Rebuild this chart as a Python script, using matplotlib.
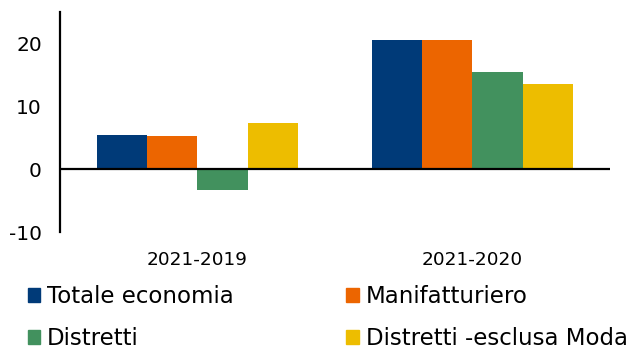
import numpy as np
import matplotlib.pyplot as plt
from matplotlib.patches import Patch

plt.rcParams['font.family'] = ['DejaVu Sans']
plt.rcParams['axes.unicode_minus'] = False

categories = ['2021-2019', '2021-2020']
series = ['Totale economia', 'Manifatturiero', 'Distretti', 'Distretti -esclusa Moda']
values = [
    [5.5, 20.5],   # Totale economia
    [5.2, 20.5],   # Manifatturiero
    [-3.3, 15.4],  # Distretti
    [7.4, 13.5],   # Distretti -esclusa Moda
]
colors = ['#003a78', '#ec6500', '#42915e', '#edbd00']

fig = plt.figure(figsize=(6.3, 3.51), dpi=100)
ax = fig.add_axes([0.0952, 0.339, 0.873, 0.627])

x = np.arange(len(categories))
w = 0.182
for i, (name, vals) in enumerate(zip(series, values)):
    ax.bar(x + (i - 1.5) * w, vals, width=w, color=colors[i], label=name)

ax.axhline(0, color='black', lw=1.6, zorder=3)
ax.set_xlim(-0.5, 1.5)
ax.set_ylim(-10, 25)
ax.set_yticks([-10, 0, 10, 20])
ax.set_xticks(x)
ax.set_xticklabels(categories, fontsize=13.3)
ax.tick_params(axis='x', length=0, pad=14)
ax.tick_params(axis='y', length=0, labelsize=14.5, pad=13)
for s in ['top', 'right', 'bottom']:
    ax.spines[s].set_visible(False)
ax.spines['left'].set_linewidth(1.6)

# legend fills column-wise, so reorder to get rows like the reference
order = [0, 2, 1, 3]
handles = [Patch(color=colors[i]) for i in order]
labels = [series[i] for i in order]
fig.legend(handles, labels, loc='upper left', ncol=2,
           bbox_to_anchor=(0.044, 0.188), frameon=False,
           fontsize=16.5, handlelength=0.55, handleheight=0.55, handletextpad=0.3,
           columnspacing=4.9, labelspacing=0.82, borderpad=0, borderaxespad=0)

fig.savefig('out.png', dpi=100)
